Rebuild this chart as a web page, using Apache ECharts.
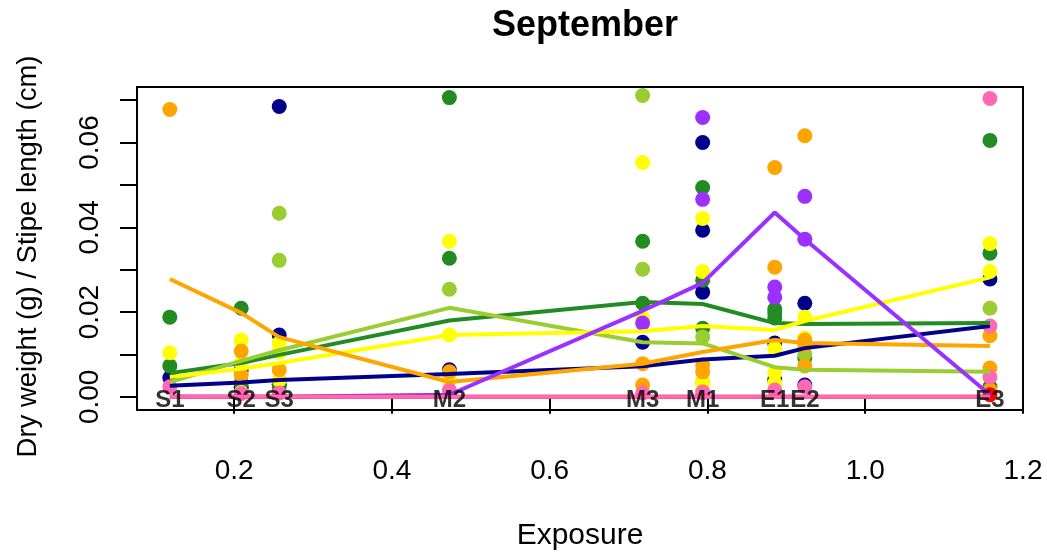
<!DOCTYPE html>
<html>
<head>
<meta charset="utf-8">
<script src="https://cdn.jsdelivr.net/npm/echarts@6/dist/echarts.min.js"></script>
<style>
  html, body { margin: 0; padding: 0; background: #fff; }
  #chart { width: 1047px; height: 552px; }
</style>
</head>
<body>
<div id="chart"></div>
<script>
// Sampling sites and their exposure index
const sites = ['S1', 'S2', 'S3', 'M2', 'M3', 'M1', 'E1', 'E2', 'E3'];
const exposure = [0.1184, 0.2089, 0.2571, 0.4728, 0.7178, 0.7939, 0.8853, 0.9234, 1.1581];

// Individual measurements per site (one inner list per site, same order as `sites`)
const navyPoints = [[0.0045], [0.0064, 0.0022], [0.0685, 0.0146, 0.0030], [0.0064], [0.0129],
  [0.0600, 0.0393, 0.0247], [0.0127, 0.0040], [0.0221, 0.0028], [0.0278]];
const greenPoints = [[0.0188, 0.0073], [0.0209, 0.0033], [0.0024], [0.0706, 0.0327], [0.0367, 0.0221],
  [0.0494, 0.0275, 0.0162], [0.0207, 0.0198, 0.0186], [0.0092], [0.0605, 0.0339, 0.0024]];
const yellowgreenPoints = [[], [], [0.0433, 0.0322], [0.0254], [0.0711, 0.0301],
  [0.0141, 0.0035], [], [0.0101], [0.0209]];
const yellowPoints = [[0.0104], [0.0134, 0.0080, 0.0010], [0.0127, 0.0106, 0.0040], [0.0367, 0.0146, 0.0040],
  [0.0553, 0.0186], [0.0421, 0.0296, 0.0033], [0.0115, 0.0056, 0.0033], [0.0188, 0.0139], [0.0362, 0.0296]];
const orangePoints = [[0.0678], [0.0108, 0.0052], [0.0064], [0.0059], [0.0078, 0.0028],
  [0.0075, 0.0059, 0.0012], [0.0541, 0.0306], [0.0616, 0.0134, 0.0122, 0.0073], [0.0144, 0.0068, 0.0016]];
const purplePoints = [[], [], [], [], [0.0174], [0.0659, 0.0466], [0.0259, 0.0235], [0.0473, 0.0372], []];
const pinkPoints = [[0.0024], [0.0008], [0.0009], [0.0016], [0.0009], [0.0010], [0.0016], [0.0024],
  [0.0704, 0.0167, 0.0047]];
const redPoints = [[], [], [], [], [], [], [], [], [0.0005]];

// Smoothed trend per group, one value per site
const navyLine = [0.0026, 0.0034, 0.0040, 0.0054, 0.0072, 0.0088, 0.0097, 0.0115, 0.0167];
const greenLine = [0.0056, 0.0080, 0.0099, 0.0180, 0.0224, 0.0219, 0.0174, 0.0172, 0.0174];
const yellowgreenLine = [0.0035, 0.0085, 0.0110, 0.0210, 0.0129, 0.0126, 0.0070, 0.0064, 0.0059];
const yellowLine = [0.0047, 0.0066, 0.0080, 0.0146, 0.0155, 0.0167, 0.0158, 0.0179, 0.0282];
const orangeLine = [0.0278, 0.0198, 0.0141, 0.0035, 0.0078, 0.0106, 0.0134, 0.0127, 0.0120];
const purpleLine = [0, 0, 0, 0.0005, 0.0203, 0.0269, 0.0435, 0.0372, 0.0005];
const redLine = [0, 0, 0, 0, 0, 0, 0, 0, 0];
const pinkLine = [0, 0, 0, 0, 0, 0, 0, 0, 0];

// Axis ticks
const xTicks = [0.2, 0.4, 0.6, 0.8, 1.0, 1.2];
const yTicks = [0, 0.01, 0.02, 0.03, 0.04, 0.05, 0.06, 0.07];
const yLabels = [0, 0.02, 0.04, 0.06];

const FONT = "'Liberation Sans', Arial, Helvetica, sans-serif";

const groups = [
  { pts: navyPoints, line: navyLine, color: '#00008B' },
  { pts: greenPoints, line: greenLine, color: '#228B22' },
  { pts: yellowgreenPoints, line: yellowgreenLine, color: '#9ACD32' },
  { pts: yellowPoints, line: yellowLine, color: '#FFFF00' },
  { pts: orangePoints, line: orangeLine, color: '#FFA500' },
  { pts: purplePoints, line: purpleLine, color: '#9B30FF' },
  { pts: redPoints, line: redLine, color: '#FF0000' },
  { pts: pinkPoints, line: pinkLine, color: '#FF69B4' }
];

const series = [];
groups.forEach(g => {
  const data = [];
  g.pts.forEach((vals, i) => vals.forEach(v => data.push([exposure[i], v])));
  series.push({
    type: 'scatter', data: data, symbol: 'circle', symbolSize: 15,
    itemStyle: { color: g.color, opacity: 1 }, silent: true
  });
});
groups.forEach(g => {
  series.push({
    type: 'line', data: g.line.map((v, i) => [exposure[i], v]),
    showSymbol: false, symbol: 'none',
    lineStyle: { color: g.color, width: 4 }, silent: true
  });
});
// Site names written along the zero line
series.push({
  type: 'scatter', data: exposure.map(x => [x, 0]), symbolSize: 1,
  itemStyle: { color: 'rgba(0,0,0,0)' }, silent: true, z: 10,
  label: {
    show: true, position: 'inside', offset: [0, 4],
    formatter: p => sites[p.dataIndex],
    fontFamily: FONT, fontWeight: 'bold', fontSize: 24, color: '#000'
  }
});

const chart = echarts.init(document.getElementById('chart'), null, { renderer: 'canvas' });
chart.setOption({
  animation: false,
  backgroundColor: '#fff',
  title: {
    text: 'September', left: 580, top: 3, textAlign: 'center',
    textStyle: { fontFamily: FONT, fontWeight: 'bold', fontSize: 36, color: '#000' }
  },
  grid: {
    left: 137, right: 24, top: 87, bottom: 142,
    containLabel: false, outerBoundsMode: 'none',
    show: true, borderColor: '#000', borderWidth: 2, backgroundColor: 'transparent'
  },
  xAxis: {
    type: 'value', min: 0.0768, max: 1.2,
    name: 'Exposure', nameLocation: 'middle', nameGap: 111,
    nameTextStyle: { fontFamily: FONT, fontSize: 30, color: '#000' },
    axisLine: { show: false },
    axisTick: { show: true, customValues: xTicks, length: 17, lineStyle: { color: '#000', width: 2 } },
    axisLabel: {
      show: true, customValues: xTicks, margin: 47,
      formatter: v => v.toFixed(1),
      fontFamily: FONT, fontSize: 28, color: '#000'
    },
    splitLine: { show: false }
  },
  yAxis: {
    type: 'value', min: -0.0031, max: 0.0731,
    name: 'Dry weight (g) / Stipe length (cm)', nameLocation: 'middle', nameGap: 95,
    nameTextStyle: { fontFamily: FONT, fontSize: 27.5, color: '#000', padding: [0, 16, 0, 0] },
    axisLine: { show: false },
    axisTick: { show: true, customValues: yTicks, length: 17, lineStyle: { color: '#000', width: 2 } },
    axisLabel: {
      show: true, customValues: yLabels, margin: 33, rotate: 90,
      formatter: v => v.toFixed(2),
      fontFamily: FONT, fontSize: 28, color: '#000'
    },
    splitLine: { show: false }
  },
  series: series
});
</script>
</body>
</html>
